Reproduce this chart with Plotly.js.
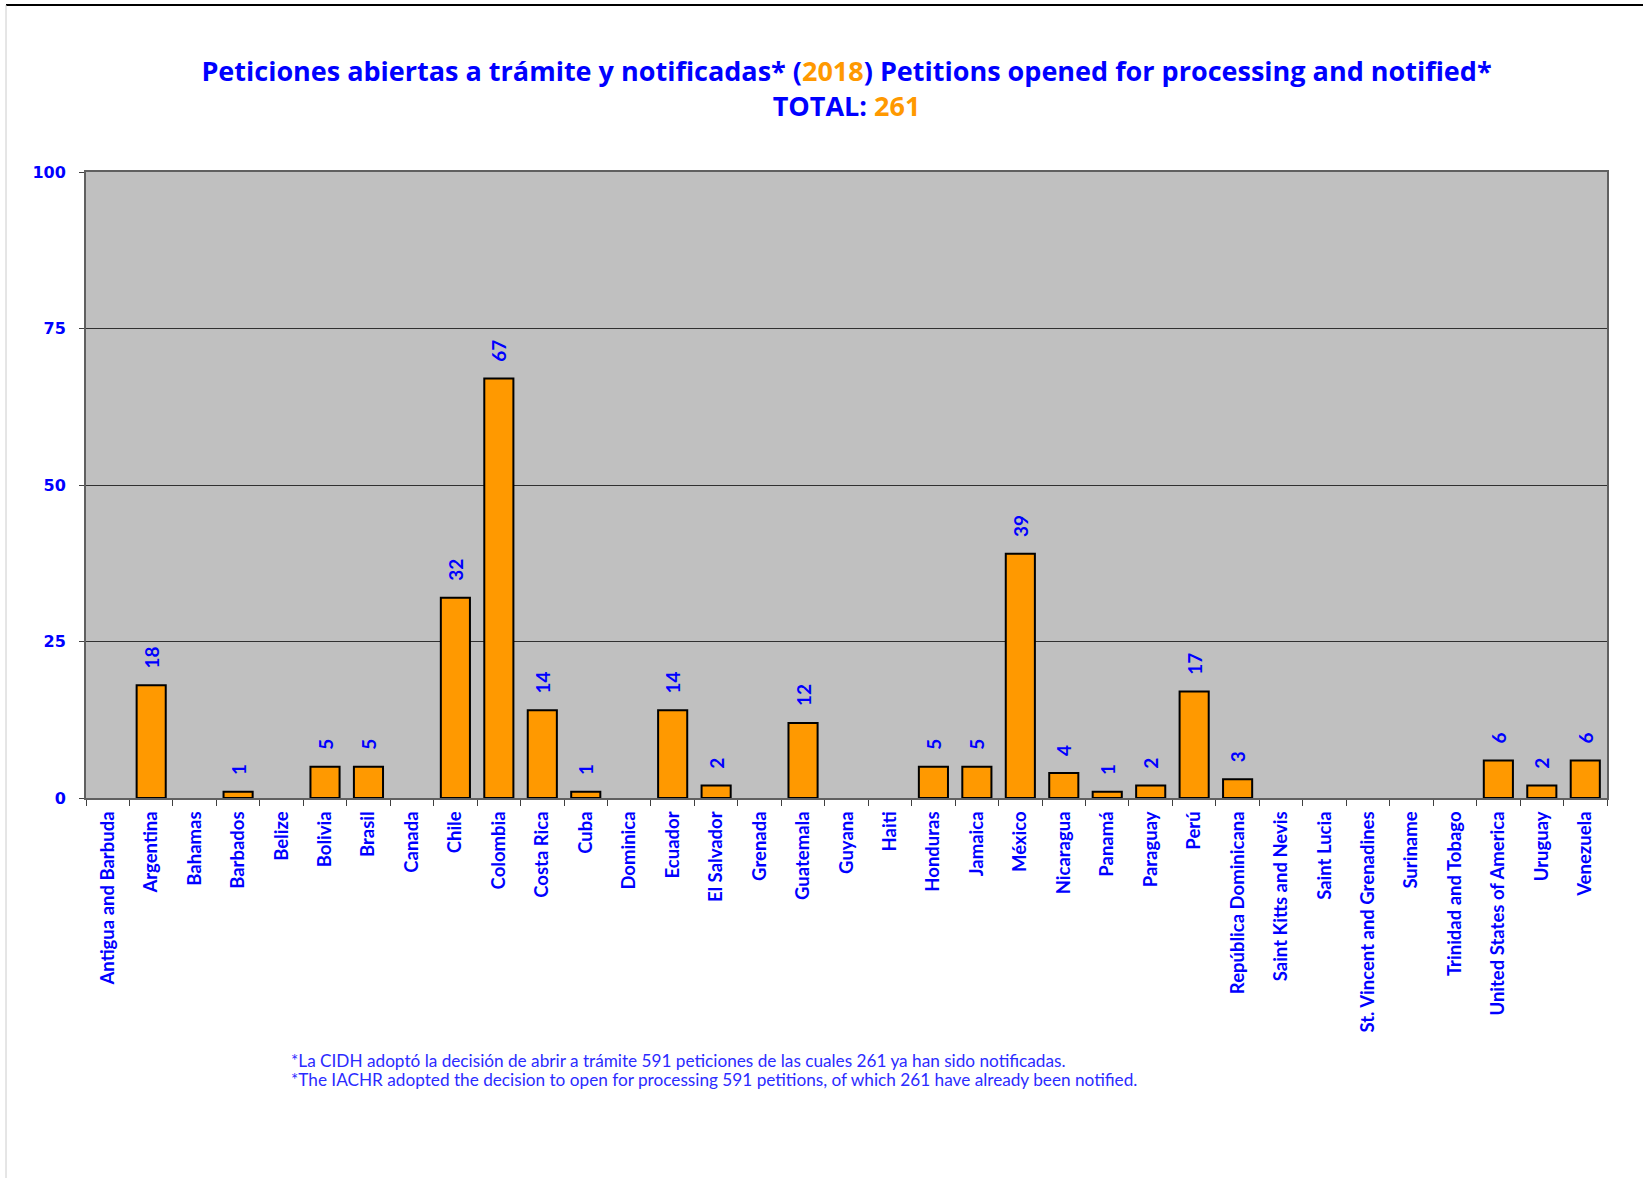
<!DOCTYPE html>
<html>
<head>
<meta charset="utf-8">
<script src="https://cdn.plot.ly/plotly-3.0.1.min.js"></script>
<style>html,body{margin:0;padding:0;background:#fff;}#chart{width:1643px;height:1178px;}</style>
</head>
<body>
<div id="chart"></div>
<script>
const countries = ["Antigua and Barbuda","Argentina","Bahamas","Barbados","Belize","Bolivia","Brasil","Canada","Chile","Colombia","Costa Rica","Cuba","Dominica","Ecuador","El Salvador","Grenada","Guatemala","Guyana","Haiti","Honduras","Jamaica","México","Nicaragua","Panamá","Paraguay","Perú","República Dominicana","Saint Kitts and Nevis","Saint Lucia","St. Vincent and Grenadines","Suriname","Trinidad and Tobago","United States of America","Uruguay","Venezuela"];
const petitions = [0,18,0,1,0,5,5,0,32,67,14,1,0,14,2,0,12,0,0,5,5,39,4,1,2,17,3,0,0,0,0,0,6,2,6];
const yTicks = [0,25,50,75,100];
const titleYear = "2018";
const total = 261;
const footnotes = [
  "*La CIDH adoptó la decisión de abrir a trámite 591 peticiones de las cuales 261 ya han sido notificadas.",
  "*The IACHR adopted the decision to open for processing 591 petitions, of which 261 have already been notified."
];

const BLUE = "#0000FF";
const ORANGE = "#FF9900";
const NB = "\u00A0\u00A0\u00A0";

const labels = petitions.map(v => v === 0 ? "" : NB + String(v));

const trace = {
  type: "bar",
  x: countries,
  y: petitions,
  text: labels,
  textposition: "outside",
  textangle: -90,
  constraintext: "none",
  cliponaxis: false,
  textfont: {family: "Lato, sans-serif", size: 19, color: BLUE, weight: "bold"},
  marker: {color: ORANGE, line: {color: "#000000", width: petitions.map(v => v === 0 ? 0 : 2)}},
  hoverinfo: "x+y"
};

const L = 86, R = 1607, T = 172, B = 798;
const W = 1643, H = 1178;
const px2x = px => (px - L) / (R - L);
const py2y = py => (B - py) / (B - T);

const layout = {
  width: W, height: H,
  paper_bgcolor: "#FFFFFF",
  plot_bgcolor: "#C0C0C0",
  margin: {l: L, r: W - R, t: T, b: H - B, pad: 0},
  showlegend: false,
  bargap: 0.33,
  font: {family: "Lato, sans-serif", color: BLUE},
  title: {
    text: "Peticiones abiertas a trámite y notificadas* (<span style='color:" + ORANGE + "'>" + titleYear + "</span>) Petitions opened for processing and notified*<br>TOTAL: <span style='color:" + ORANGE + "'>" + total + "</span>",
    font: {family: "Open Sans, sans-serif", size: 27, color: BLUE, weight: "bold"},
    x: 0.5, xref: "paper", xanchor: "center",
    y: 1 - 81 / H, yref: "container", yanchor: "middle"
  },
  xaxis: {
    type: "category",
    tickangle: -90,
    tickfont: {family: "Lato, sans-serif", size: 18.5, color: BLUE, weight: "bold"},
    ticks: "outside", ticklen: 6, tickcolor: "#404040", tickwidth: 1,
    tickson: "boundaries",
    ticklabelstandoff: 4,
    showline: true, linecolor: "#606060", linewidth: 2, mirror: true,
    showgrid: false, zeroline: false,
    fixedrange: true
  },
  yaxis: {
    range: [0, 100],
    tickvals: yTicks,
    ticktext: yTicks.map(String),
    tickfont: {family: "DejaVu Sans, sans-serif", size: 16, color: BLUE, weight: "bold"},
    ticks: "outside", ticklen: 5, tickcolor: "#404040",
    ticklabelstandoff: 10,
    showline: true, linecolor: "#606060", linewidth: 2, mirror: true,
    showgrid: true, gridcolor: "#303030", gridwidth: 1,
    zeroline: false,
    fixedrange: true
  },
  shapes: [
    {type: "line", xref: "paper", yref: "paper", x0: px2x(6), x1: px2x(W), y0: py2y(5), y1: py2y(5), line: {color: "#000000", width: 2}},
    {type: "line", xref: "paper", yref: "paper", x0: px2x(6), x1: px2x(6), y0: py2y(5), y1: py2y(H), line: {color: "#CCCCCC", width: 1}}
  ],
  annotations: footnotes.map((t, i) => ({
    text: t, showarrow: false,
    xref: "paper", yref: "paper",
    x: px2x(289), xanchor: "left",
    y: py2y(1060 + i * 19), yanchor: "middle",
    font: {family: "Lato, sans-serif", size: 17.2, color: "#2B2BFF"}
  }))
};

Plotly.newPlot("chart", [trace], layout, {displayModeBar: false, staticPlot: true});
</script>
</body>
</html>
